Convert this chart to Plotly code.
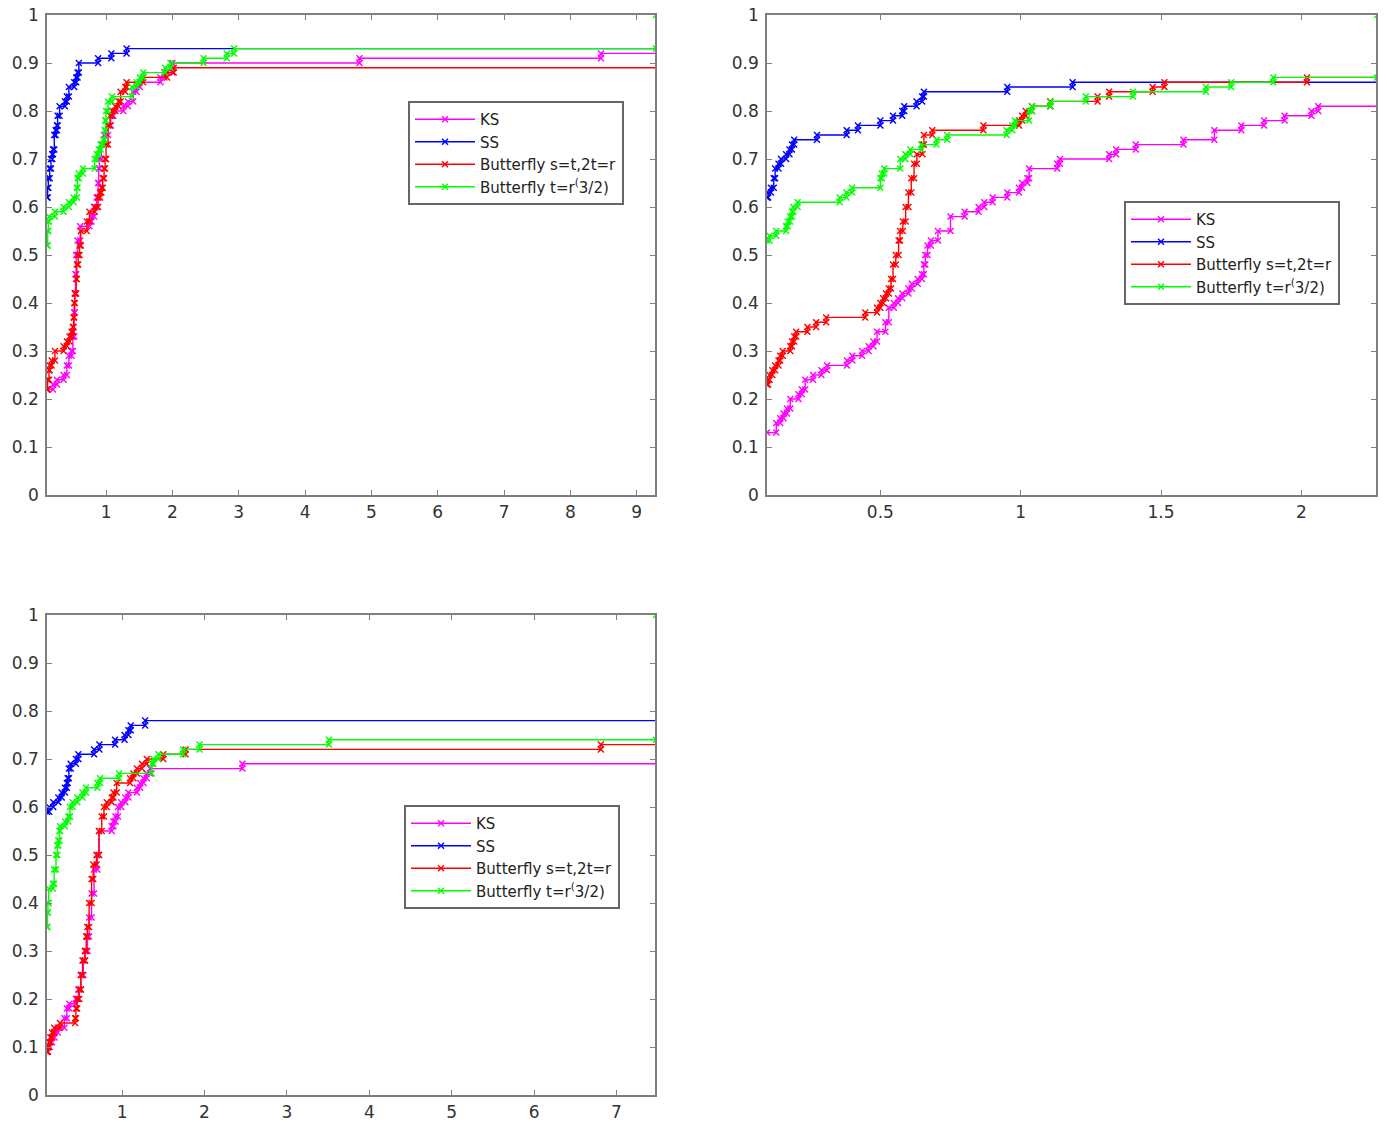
import plotly.graph_objects as go

# ---- data: step points (x where the level changes, level after the step) ----
names = ["KS", "SS", "Butterfly s=t,2t=r", "Butterfly t=r<sup>(</sup>3/2)"]
colors = ["#ff00ff", "#0000ff", "#ff0000", "#00ff00"]

x_ranges = [[0.11, 9.275], [0.096, 2.266], [0.089, 7.467]]
x_ticks = [[1, 2, 3, 4, 5, 6, 7, 8, 9], [0.5, 1, 1.5, 2], [1, 2, 3, 4, 5, 6, 7]]

# panel 1
p1_ks_x = [0.11, 0.20, 0.26, 0.36, 0.41, 0.44, 0.48, 0.50, 0.52, 0.53, 0.54, 0.55, 0.57, 0.61, 0.75, 0.78,
           0.82, 0.86, 0.88, 0.89, 0.90, 0.93, 0.97, 1.03, 1.07, 1.11, 1.26, 1.33, 1.41, 1.46, 1.51, 1.82,
           1.88, 2.00, 4.82, 8.46]
p1_ks_y = [0.22, 0.23, 0.24, 0.25, 0.27, 0.29, 0.30, 0.33, 0.38, 0.42, 0.46, 0.50, 0.53, 0.56, 0.57, 0.58,
           0.60, 0.62, 0.65, 0.68, 0.70, 0.73, 0.75, 0.77, 0.79, 0.80, 0.81, 0.82, 0.84, 0.85, 0.86, 0.87,
           0.88, 0.90, 0.91, 0.92]
p1_ss_x = [0.11, 0.12, 0.13, 0.15, 0.17, 0.19, 0.20, 0.22, 0.24, 0.26, 0.27, 0.30, 0.38, 0.41, 0.44, 0.52,
           0.55, 0.57, 0.59, 0.88, 1.08, 1.31]
p1_ss_y = [0.62, 0.64, 0.66, 0.68, 0.70, 0.71, 0.72, 0.75, 0.76, 0.77, 0.79, 0.81, 0.82, 0.83, 0.85, 0.86,
           0.87, 0.88, 0.90, 0.91, 0.92, 0.93]
p1_b1_x = [0.11, 0.12, 0.14, 0.15, 0.18, 0.23, 0.36, 0.41, 0.45, 0.48, 0.50, 0.51, 0.52, 0.53, 0.55, 0.56,
           0.58, 0.60, 0.62, 0.71, 0.75, 0.83, 0.88, 0.91, 0.93, 0.95, 0.97, 0.985, 1.00, 1.03, 1.06, 1.09,
           1.14, 1.19, 1.22, 1.29, 1.31, 1.56, 1.92, 2.02]
p1_b1_y = [0.22, 0.24, 0.26, 0.27, 0.28, 0.30, 0.31, 0.32, 0.33, 0.34, 0.35, 0.37, 0.40, 0.42, 0.45, 0.48,
           0.50, 0.52, 0.55, 0.57, 0.59, 0.60, 0.62, 0.63, 0.64, 0.66, 0.68, 0.70, 0.73, 0.77, 0.79, 0.80,
           0.81, 0.82, 0.84, 0.85, 0.86, 0.87, 0.88, 0.89]
p1_b2_x = [0.11, 0.12, 0.13, 0.14, 0.23, 0.36, 0.44, 0.51, 0.56, 0.57, 0.59, 0.65, 0.83, 0.86, 0.89, 0.92,
           0.96, 0.98, 0.99, 1.00, 1.03, 1.09, 1.39, 1.46, 1.51, 1.56, 1.89, 1.97, 2.47, 2.82, 2.93, 9.29]
p1_b2_y = [0.52, 0.55, 0.57, 0.58, 0.59, 0.60, 0.61, 0.62, 0.64, 0.66, 0.67, 0.68, 0.70, 0.71, 0.72, 0.73,
           0.74, 0.76, 0.78, 0.80, 0.82, 0.83, 0.85, 0.86, 0.87, 0.88, 0.89, 0.90, 0.91, 0.92, 0.93, 1.00]

# panel 2
p2_ks_x = [0.096, 0.129, 0.143, 0.155, 0.167, 0.179, 0.208, 0.22, 0.232, 0.26, 0.29, 0.31, 0.381, 0.40,
           0.435, 0.458, 0.475, 0.488, 0.518, 0.53, 0.548, 0.563, 0.578, 0.60, 0.612, 0.633, 0.648, 0.655,
           0.66, 0.668, 0.68, 0.705, 0.75, 0.80, 0.85, 0.87, 0.90, 0.952, 0.994, 1.005, 1.024, 1.03, 1.13,
           1.14, 1.315, 1.34, 1.41, 1.58, 1.69, 1.786, 1.867, 1.94, 2.036, 2.06]
p2_ks_y = [0.13, 0.15, 0.16, 0.17, 0.18, 0.20, 0.21, 0.22, 0.24, 0.25, 0.26, 0.27, 0.28, 0.29,
           0.30, 0.31, 0.32, 0.34, 0.36, 0.39, 0.40, 0.41, 0.42, 0.43, 0.44, 0.45, 0.46, 0.48,
           0.50, 0.52, 0.53, 0.55, 0.58, 0.59, 0.60, 0.61, 0.62, 0.63, 0.64, 0.65, 0.66, 0.68, 0.69,
           0.70, 0.71, 0.72, 0.73, 0.74, 0.76, 0.77, 0.78, 0.79, 0.80, 0.81]
p2_ss_x = [0.096, 0.10, 0.11, 0.12, 0.125, 0.137, 0.146, 0.164, 0.176, 0.185, 0.193, 0.274, 0.38, 0.42,
           0.50, 0.545, 0.578, 0.585, 0.629, 0.649, 0.655, 0.952, 1.185]
p2_ss_y = [0.62, 0.63, 0.64, 0.66, 0.68, 0.69, 0.70, 0.71, 0.72, 0.73, 0.74, 0.75, 0.76, 0.77,
           0.78, 0.79, 0.80, 0.81, 0.82, 0.83, 0.84, 0.85, 0.86]
p2_b1_x = [0.096, 0.10, 0.105, 0.115, 0.125, 0.137, 0.143, 0.152, 0.179, 0.185, 0.193, 0.20, 0.24, 0.271,
           0.307, 0.446, 0.488, 0.50, 0.51, 0.52, 0.53, 0.538, 0.545, 0.555, 0.565, 0.57, 0.58, 0.59, 0.60,
           0.61, 0.62, 0.63, 0.65, 0.655, 0.685, 0.867, 0.994, 1.005, 1.018, 1.04, 1.105, 1.274, 1.315,
           1.47, 1.512, 2.02]
p2_b1_y = [0.23, 0.24, 0.25, 0.26, 0.27, 0.28, 0.29, 0.30, 0.31, 0.32, 0.33, 0.34, 0.35, 0.36,
           0.37, 0.38, 0.39, 0.40, 0.41, 0.42, 0.43, 0.45, 0.48, 0.50, 0.53, 0.55, 0.57, 0.60, 0.63,
           0.66, 0.69, 0.71, 0.73, 0.75, 0.76, 0.77, 0.78, 0.79, 0.80, 0.81, 0.82, 0.83, 0.84,
           0.85, 0.86, 0.87]
p2_b2_x = [0.096, 0.105, 0.129, 0.164, 0.17, 0.178, 0.185, 0.19, 0.205, 0.355, 0.379, 0.399, 0.50, 0.505,
           0.514, 0.571, 0.589, 0.607, 0.646, 0.70, 0.738, 0.95, 0.97, 0.98, 1.03, 1.04, 1.107, 1.232,
           1.40, 1.66, 1.75, 1.90, 2.27]
p2_b2_y = [0.53, 0.54, 0.55, 0.56, 0.57, 0.58, 0.59, 0.60, 0.61, 0.62, 0.63, 0.64, 0.66, 0.67,
           0.68, 0.70, 0.71, 0.72, 0.73, 0.74, 0.75, 0.76, 0.77, 0.78, 0.80, 0.81, 0.82, 0.83,
           0.84, 0.85, 0.86, 0.87, 1.00]

# panel 3
p3_ks_x = [0.089, 0.10, 0.12, 0.15, 0.18, 0.22, 0.30, 0.33, 0.36, 0.44, 0.47, 0.50, 0.53, 0.55, 0.58,
           0.60, 0.63, 0.66, 0.70, 0.72, 0.874, 0.895, 0.92, 0.95, 0.99, 1.04, 1.077, 1.18, 1.22, 1.26,
           1.30, 1.34, 2.46]
p3_ks_y = [0.09, 0.10, 0.11, 0.12, 0.13, 0.14, 0.16, 0.18, 0.19, 0.20, 0.22, 0.25, 0.28, 0.30, 0.33,
           0.37, 0.42, 0.47, 0.50, 0.55, 0.56, 0.57, 0.58, 0.60, 0.61, 0.62, 0.63, 0.64, 0.65, 0.66,
           0.67, 0.68, 0.69]
p3_ss_x = [0.089, 0.115, 0.165, 0.227, 0.267, 0.307, 0.33, 0.34, 0.355, 0.376, 0.44, 0.469, 0.66, 0.725,
           0.915, 1.03, 1.077, 1.105, 1.28]
p3_ss_y = [0.59, 0.60, 0.61, 0.62, 0.63, 0.64, 0.65, 0.66, 0.68, 0.69, 0.70, 0.71, 0.72, 0.73,
           0.74, 0.75, 0.76, 0.77, 0.78]
p3_b1_x = [0.089, 0.10, 0.115, 0.13, 0.15, 0.177, 0.246, 0.43, 0.44, 0.455, 0.48, 0.50, 0.52, 0.55, 0.565,
           0.578, 0.60, 0.63, 0.65, 0.69, 0.72, 0.753, 0.78, 0.814, 0.874, 0.895, 0.935, 1.097, 1.137,
           1.18, 1.24, 1.30, 1.50, 1.77, 6.81]
p3_b1_y = [0.09, 0.10, 0.11, 0.12, 0.13, 0.14, 0.15, 0.16, 0.18, 0.20, 0.22, 0.25, 0.28, 0.30, 0.33,
           0.35, 0.40, 0.45, 0.48, 0.50, 0.55, 0.58, 0.60, 0.61, 0.62, 0.63, 0.65, 0.66, 0.67,
           0.68, 0.69, 0.70, 0.71, 0.72, 0.73]
p3_b2_x = [0.089, 0.095, 0.10, 0.11, 0.16, 0.175, 0.198, 0.215, 0.226, 0.24, 0.247, 0.307, 0.348, 0.368,
           0.40, 0.457, 0.52, 0.562, 0.70, 0.733, 0.963, 1.36, 1.38, 1.44, 1.74, 1.94, 3.51, 7.48]
p3_b2_y = [0.35, 0.38, 0.40, 0.43, 0.44, 0.47, 0.50, 0.52, 0.53, 0.55, 0.56, 0.57, 0.58, 0.60,
           0.61, 0.62, 0.63, 0.64, 0.65, 0.66, 0.67, 0.69, 0.70, 0.71, 0.72, 0.73, 0.74, 1.00]

panels = [
    [(p1_ks_x, p1_ks_y), (p1_ss_x, p1_ss_y), (p1_b1_x, p1_b1_y), (p1_b2_x, p1_b2_y)],
    [(p2_ks_x, p2_ks_y), (p2_ss_x, p2_ss_y), (p2_b1_x, p2_b1_y), (p2_b2_x, p2_b2_y)],
    [(p3_ks_x, p3_ks_y), (p3_ss_x, p3_ss_y), (p3_b1_x, p3_b1_y), (p3_b2_x, p3_b2_y)],
]


def stairs(xs, ys, xend):
    # vertices of a MATLAB-style stairs plot, continued past the right edge
    vx, vy = [xs[0]], [ys[0]]
    for i in range(1, len(xs)):
        vx += [xs[i], xs[i]]
        vy += [ys[i - 1], ys[i]]
    vx.append(xend)
    vy.append(ys[-1])
    return vx, vy


W, H = 1387, 1122
fig = go.Figure()

# axes boxes in pixels: (left, right, top, bottom)
boxes = [(47, 655, 15, 495), (767, 1376, 15, 495), (47, 655, 615, 1095)]
legend_pos = [(408, 101), (1124, 201), (404, 805)]
legend_ids = ["legend", "legend2", "legend3"]

axis_style = dict(
    showline=True, linecolor="#7f7f7f", linewidth=1.5, mirror="ticks",
    ticks="inside", ticklen=5, tickcolor="#7f7f7f", tickwidth=1,
    showgrid=False, zeroline=False, automargin=False,
    tickfont=dict(family="DejaVu Sans", size=17, color="#333333"),
)

for p, series in enumerate(panels):
    sx = "" if p == 0 else str(p + 1)
    for s, (xs, ys) in enumerate(series):
        vx, vy = stairs(xs, ys, x_ranges[p][1] * 2)
        fig.add_trace(go.Scatter(
            x=vx, y=vy, mode="lines+markers", name=names[s],
            line=dict(color=colors[s], width=1.4),
            marker=dict(symbol="x-thin", size=6, line=dict(width=1.4, color=colors[s]), color=colors[s]),
            xaxis="x" + sx, yaxis="y" + sx, legend=legend_ids[p],
        ))
    l, r, t, b = boxes[p]
    fig.update_layout(**{
        "xaxis" + sx: dict(axis_style, domain=[l / W, r / W], range=x_ranges[p],
                           tickvals=x_ticks[p], anchor="y" + sx, ticklabelstandoff=1),
        "yaxis" + sx: dict(axis_style, domain=[1 - b / H, 1 - t / H], range=[0, 1],
                           tickvals=[i / 10 for i in range(11)],
                           ticktext=["0"] + ["0.%d" % i for i in range(1, 10)] + ["1"],
                           anchor="x" + sx, ticklabelstandoff=3),
    })
    lx, ly = legend_pos[p]
    fig.update_layout(**{
        legend_ids[p]: dict(
            x=lx / W, y=1 - ly / H, xanchor="left", yanchor="top",
            bgcolor="white", bordercolor="#666666", borderwidth=2,
            font=dict(family="DejaVu Sans", size=15, color="#222222"),
            itemwidth=60, tracegroupgap=0,
        )
    })

fig.update_layout(
    width=W, height=H, margin=dict(l=0, r=0, t=0, b=0),
    plot_bgcolor="white", paper_bgcolor="white", showlegend=True,
)

# page body has a default 8px margin; drop it so the figure sits at the window origin
fig.write_html("out.html", config={"displayModeBar": False},
               post_script="document.body.style.margin='0';")
